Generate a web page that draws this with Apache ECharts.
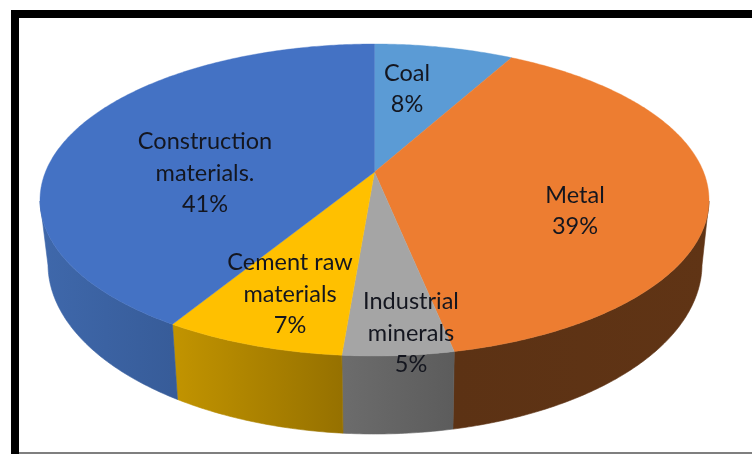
<!DOCTYPE html>
<html>
<head>
<meta charset="utf-8">
<style>html,body{margin:0;padding:0;background:#fff}#c{width:752px;height:454px}</style>
<script src="https://cdn.jsdelivr.net/npm/echarts@6/dist/echarts.min.js"></script>
</head>
<body>
<div id="c"></div>
<script>
// Data: shares in clockwise order from the top of the pie
const categories = ['Coal', 'Metal', 'Industrial minerals', 'Cement raw materials', 'Construction materials.'];
const shares = [8, 38.8, 4.5, 7.4, 41.3];

// Styles
const labelLines = ['Coal', 'Metal', 'Industrial\nminerals', 'Cement raw\nmaterials', 'Construction\nmaterials.'];
const labelAt = [[407, 89], [575, 211], [411, 333], [290, 294], [205, 173]];
const faceColors = ['#5B9BD5', '#ED7D31', '#A5A5A5', '#FFC000', '#4472C4'];
const wallColors = [
  ['#3E6F9A', '#3E6F9A'], ['#5C3214', '#603415'], ['#6C6C6C', '#5C5C5C'],
  ['#C29400', '#967100'], ['#3F68AB', '#375C99']
];
// Pie geometry: upper and lower ellipses and the perspective shift of the centre
const top3d = { cx: 374.5, cy: 200, rx: 334.5, ry: 156 };
const bottom3d = { cx: 375, cy: 264, rx: 327, ry: 170 };
const persp = -0.1795;

const total = shares.reduce((a, b) => a + b, 0);
const starts = shares.map((_, i) => shares.slice(0, i).reduce((a, b) => a + b, 0));

// Circle angle -> position on a unit circle seen in perspective
function norm(share) {
  const t = share / total * Math.PI * 2;
  const x = Math.sin(t), y = -Math.cos(t), d = 1 + persp * y;
  return [x * Math.sqrt(1 - persp * persp) / d, (y + persp) / d];
}
const onEllipse = (e, n) => [e.cx + n[0] * e.rx, e.cy + n[1] * e.ry];
function arc(i) {
  const pts = [], steps = Math.max(12, Math.ceil(shares[i] * 6));
  for (let k = 0; k <= steps; k++) pts.push(norm(starts[i] + shares[i] * k / steps));
  return pts;
}
const apex = [top3d.cx, top3d.cy + persp * top3d.ry];

const chart = echarts.init(document.getElementById('c'), null, { renderer: 'canvas' });
const seriesData = categories.map((name, i) => ({ name, value: [i, shares[i]] }));

chart.setOption({
  animation: false,
  backgroundColor: '#ffffff',
  graphic: [
    { type: 'rect', z: 10, shape: { x: 11, y: 10, width: 8, height: 444 }, style: { fill: '#000' } },
    { type: 'rect', z: 10, shape: { x: 11, y: 10, width: 741, height: 8 }, style: { fill: '#000' } },
    { type: 'rect', z: 10, shape: { x: 11, y: 452.5, width: 741, height: 1 }, style: { fill: '#000' } }
  ],
  series: [
    {
      type: 'custom', name: 'walls', coordinateSystem: 'none', silent: true, z: 1, data: seriesData,
      renderItem(params, api) {
        const i = api.value(0);
        // only the front half of the rim is visible
        const a = arc(i).filter(n => n[1] >= 0);
        if (a.length < 2) return null;
        const upper = a.map(n => onEllipse(top3d, n));
        const lower = a.map(n => onEllipse(bottom3d, n)).reverse();
        const xs = upper.map(p => p[0]);
        const fill = { type: 'linear', global: true, x: Math.min(...xs), y: 0, x2: Math.max(...xs), y2: 0,
          colorStops: [{ offset: 0, color: wallColors[i][0] }, { offset: 1, color: wallColors[i][1] }] };
        return {
          type: 'polygon',
          shape: { points: upper.concat(lower) },
          style: { fill, stroke: fill, lineWidth: 0.6 }
        };
      }
    },
    {
      type: 'custom', name: 'faces', coordinateSystem: 'none', silent: true, z: 2, data: seriesData,
      renderItem(params, api) {
        const i = api.value(0);
        return {
          type: 'polygon',
          shape: { points: [apex].concat(arc(i).map(n => onEllipse(top3d, n))) },
          style: { fill: faceColors[i], stroke: faceColors[i], lineWidth: 0.4 }
        };
      }
    },
    {
      type: 'custom', name: 'labels', coordinateSystem: 'none', silent: true, z: 3, data: seriesData,
      renderItem(params, api) {
        const i = api.value(0);
        return {
          type: 'text',
          style: {
            text: labelLines[i] + '\n' + Math.round(api.value(1) / total * 100) + '%',
            x: labelAt[i][0], y: labelAt[i][1],
            align: 'center', verticalAlign: 'middle',
            font: '23.5px Lato, "Open Sans", sans-serif', lineHeight: 31.5,
            fill: '#14161f'
          }
        };
      }
    }
  ]
});
</script>
</body>
</html>
